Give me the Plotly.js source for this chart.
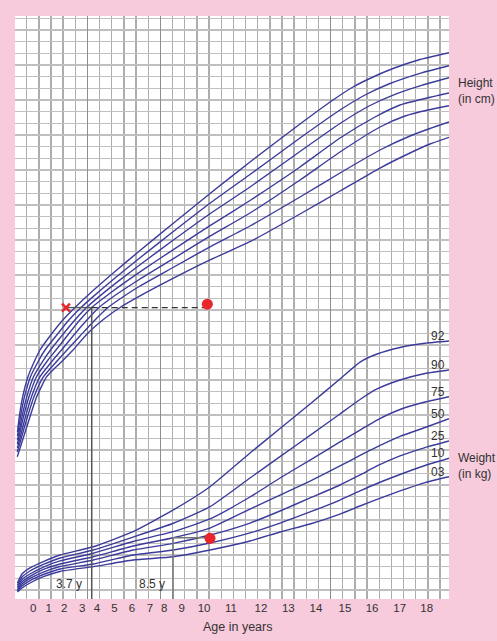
<!DOCTYPE html>
<html><head><meta charset="utf-8">
<script src="https://cdn.plot.ly/plotly-3.0.1.min.js"></script>
<style>html,body{margin:0;padding:0;background:#f7cadc;overflow:hidden}</style>
</head><body>
<div id="chart" style="width:497px;height:641px"></div>
<script>
// x axis unit = one column of the chart paper, y axis unit = one row of the chart paper
const ageTicks = [0,1,2,3,4,5,6,7,8,9,10,11,12,13,14,15,16,17,18];
const ageTickCol = [0.54,1.81,3.09,4.57,5.78,7.21,8.66,10.14,11.32,12.75,14.59,16.81,19.27,21.52,23.80,26.18,28.41,30.68,32.91];
const percentiles = ['92','90','75','50','25','10','03'];

// Height curves
const heightX_92 = [-0.757,-0.609,-0.329,0.107,0.683,1.094,1.917,2.904,3.973,5.372,7.264,9.321,12.035,15.079,18.370,22.483,25.197,26.843,28.488,30.134,32.354,34.740];
const heightY_92 = [13.543,14.854,16.569,18.283,19.714,20.571,21.771,23.057,24.214,25.586,27.300,29.099,31.413,33.985,36.685,39.943,42.000,43.114,43.971,44.700,45.471,46.054];
const heightX_90 = [-0.757,-0.510,-0.181,0.313,1.012,1.505,2.410,3.398,4.467,5.372,7.264,9.321,12.035,15.079,18.370,22.483,25.774,27.830,29.887,32.354,34.740];
const heightY_90 = [13.200,14.854,16.569,18.283,19.714,20.571,21.771,23.057,24.214,25.063,26.743,28.474,30.711,33.154,35.614,38.743,41.143,42.429,43.414,44.288,44.940];
const heightX_75 = [-0.757,-0.387,0.008,0.559,1.382,1.958,2.904,3.891,4.919,6.030,7.675,9.321,12.035,15.079,18.370,22.483,25.774,28.241,30.298,32.354,34.740];
const heightY_75 = [12.857,14.854,16.569,18.283,19.714,20.571,21.814,23.057,24.214,25.208,26.579,27.882,29.974,32.254,34.543,37.586,39.986,41.529,42.489,43.217,43.911];
const heightX_50 = [-0.765,-0.263,0.189,0.806,1.752,2.410,3.315,4.302,5.347,6.853,9.321,12.035,15.079,18.370,22.483,25.774,28.652,30.709,32.766,34.740];
const heightY_50 = [12.514,14.854,16.569,18.283,19.714,20.571,21.771,23.057,24.214,25.439,27.265,29.159,31.225,33.385,36.257,38.743,40.543,41.571,42.128,42.600];
const heightX_25 = [-0.765,-0.099,0.395,1.094,2.164,2.863,3.809,4.878,5.948,7.017,9.321,12.035,15.079,18.370,22.483,25.774,29.064,31.121,33.013,34.740];
const heightY_25 = [12.171,14.854,16.569,18.283,19.714,20.571,21.771,23.057,24.214,25.071,26.657,28.388,30.325,32.314,35.143,37.543,39.686,40.629,41.143,41.511];
const heightX_10 = [-0.773,0.066,0.600,1.382,2.575,3.315,4.385,5.536,6.688,8.087,9.321,12.035,15.079,18.370,22.483,25.774,29.064,31.532,33.177,34.740];
const heightY_10 = [11.829,14.854,16.569,18.283,19.714,20.571,21.771,23.057,24.214,25.243,26.057,27.643,29.417,31.200,33.686,35.743,37.714,38.914,39.557,40.114];
const heightX_03 = [-0.773,0.271,0.823,1.645,3.011,3.809,5.043,6.359,7.675,9.321,12.035,15.079,18.370,22.483,25.774,29.064,31.532,33.177,34.740];
const heightY_03 = [11.425,14.854,16.569,18.283,19.714,20.571,22.028,23.228,24.214,25.208,26.708,28.294,29.854,32.229,34.200,36.171,37.457,38.228,38.803];

// Weight curves
const weightX = [-0.76,-0.39,0.27,1.37,2.74,5.48,8.75,12.06,15.08,18.37,20.84,23.31,25.77,27.42,28.82,30.71,32.77,34.74];
const weightY_92 = [0.60,1.37,1.89,2.43,3.00,3.71,5.00,6.86,8.85,11.74,13.84,15.94,18.09,19.54,20.23,20.79,21.15,21.34];
const weightY_90 = [0.43,1.11,1.63,2.19,2.74,3.43,4.54,5.72,7.14,9.60,11.43,13.25,15.09,16.33,17.23,18.00,18.56,18.86];
const weightY_75 = [0.26,0.90,1.37,1.97,2.49,3.15,4.16,5.00,6.09,7.97,9.60,11.14,12.69,13.71,14.57,15.47,16.11,16.57];
const weightY_50 = [0.13,0.69,1.16,1.76,2.23,2.85,3.77,4.48,5.31,6.94,8.14,9.34,10.63,11.53,12.26,13.16,13.93,14.68];
const weightY_25 = [0.00,0.51,0.99,1.54,2.01,2.57,3.43,4.00,4.71,5.74,6.77,7.89,9.00,9.86,10.63,11.49,12.21,12.77];
const weightY_10 = [-0.09,0.34,0.81,1.33,1.80,2.23,3.00,3.43,4.03,4.89,5.74,6.69,7.71,8.49,9.13,9.90,10.67,11.29];
const weightY_03 = [-0.17,0.17,0.60,1.14,1.59,2.00,2.57,2.85,3.43,4.20,4.97,5.66,6.51,7.20,7.76,8.49,9.21,9.71];

// Child measurements and age readings
const heightAgeLabel = '3.7 y', heightAgeCol = 5.35;
const weightAgeLabel = '8.5 y', weightAgeCol = 12.04;
const heightCrossCol = 3.23, childHeightRow = 24.21;
const childHeightDot = [14.86, 24.50];
const childWeightDot = [15.08, 4.43], childWeightRow = 4.48;
const bottomRow = -0.77;

const blue = '#3b3b9c';
const heightX = [heightX_92,heightX_90,heightX_75,heightX_50,heightX_25,heightX_10,heightX_03];
const heightY = [heightY_92,heightY_90,heightY_75,heightY_50,heightY_25,heightY_10,heightY_03];
const weightY = [weightY_92,weightY_90,weightY_75,weightY_50,weightY_25,weightY_10,weightY_03];

const traces = [];
for (let i = 0; i < 7; i++) {
  traces.push({x: heightX[i], y: heightY[i], mode: 'lines', line: {color: blue, width: 1.4, shape: 'spline', smoothing: 0.5}, hoverinfo: 'skip'});
  traces.push({x: weightX, y: weightY[i], mode: 'lines', line: {color: blue, width: 1.4, shape: 'spline', smoothing: 0.5}, hoverinfo: 'skip'});
}
// height reading
traces.push({x: [heightCrossCol, heightAgeCol], y: [childHeightRow, childHeightRow], mode: 'lines', line: {color: '#555', width: 1.3}});
traces.push({x: [heightAgeCol, childHeightDot[0]], y: [childHeightRow, childHeightRow], mode: 'lines', line: {color: '#333', width: 1.3, dash: '6px,4px'}});
traces.push({x: [heightAgeCol, heightAgeCol], y: [childHeightRow, bottomRow], mode: 'lines', line: {color: '#555', width: 1.5}});
// weight reading
traces.push({x: [weightAgeCol, weightAgeCol, childWeightDot[0]], y: [bottomRow, childWeightRow, childWeightRow], mode: 'lines', line: {color: '#777', width: 1.5}});
// markers
traces.push({x: [heightCrossCol], y: [childHeightRow], mode: 'markers', marker: {symbol: 'x-thin', size: 8, color: '#e8262b', line: {width: 2.5, color: '#e8262b'}}});
traces.push({x: [childHeightDot[0], childWeightDot[0]], y: [childHeightDot[1], childWeightDot[1]], mode: 'markers', marker: {symbol: 'circle', size: 11, color: '#e8262b'}});
// helpers for overlay axes
traces.push({x: [null], y: [null], xaxis: 'x2', mode: 'markers', hoverinfo: 'skip'});
traces.push({x: [null], y: [null], xaxis: 'x3', mode: 'markers', hoverinfo: 'skip'});

const xr = [-0.9625, 34.74];
const font = 'Liberation Sans, Arial, sans-serif';
const annotations = [];
const weightEnds = weightY.map(a => a[a.length - 1]);
for (let i = 0; i < 7; i++) {
  annotations.push({x: weightX[weightX.length - 1], y: weightEnds[i], text: percentiles[i], showarrow: false,
    xanchor: 'right', yanchor: 'bottom', xshift: -2, yshift: -4, font: {size: 12, color: '#333', family: font}});
}
annotations.push({x: heightAgeCol, y: 0.51, text: heightAgeLabel, showarrow: false, xanchor: 'right', yanchor: 'middle', xshift: -8, font: {size: 12, color: '#333', family: font}});
annotations.push({x: weightAgeCol, y: 0.51, text: weightAgeLabel, showarrow: false, xanchor: 'right', yanchor: 'middle', xshift: -6, font: {size: 12, color: '#333', family: font}});
annotations.push({xref: 'paper', yref: 'paper', x: 0.5127, y: -0.048, text: 'Age in years', showarrow: false, xanchor: 'center', yanchor: 'middle', font: {size: 12.5, color: '#333', family: font}});
annotations.push({xref: 'paper', yref: 'paper', x: 1.0154, y: 0.8708, text: 'Height<br>(in cm)', align: 'left', showarrow: false, xanchor: 'left', yanchor: 'middle', font: {size: 12, color: '#333', family: font}});
annotations.push({xref: 'paper', yref: 'paper', x: 1.0161, y: 0.2276, text: 'Weight<br>(in kg)', align: 'left', showarrow: false, xanchor: 'left', yanchor: 'middle', font: {size: 12, color: '#333', family: font}});

const layout = {
  width: 497, height: 641,
  margin: {l: 15, r: 48, t: 16, b: 42},
  paper_bgcolor: '#f7cadc', plot_bgcolor: '#ffffff',
  showlegend: false,
  font: {family: font, color: '#333'},
  xaxis: {range: xr, tickmode: 'linear', tick0: 0, dtick: 1, showticklabels: false, ticks: '', showgrid: true,
    gridcolor: '#adadad', gridwidth: 1.4, zeroline: false, showline: false, fixedrange: true},
  xaxis2: {range: xr, overlaying: 'x', anchor: 'y', side: 'bottom', tickmode: 'array', tickvals: ageTickCol,
    ticktext: ageTicks.map(String), showgrid: false, zeroline: false, showline: false, ticks: '',
    tickfont: {size: 11.5, color: '#333', family: font}, fixedrange: true},
  xaxis3: {range: xr, overlaying: 'x', anchor: 'y', side: 'bottom', tickmode: 'array', tickvals: [5, 11, 25],
    showticklabels: false, showgrid: true, gridcolor: '#8e8e8e', gridwidth: 1.4, zeroline: false, showline: false, ticks: '', fixedrange: true},
  yaxis: {range: [-0.771, 49.2], tickmode: 'linear', tick0: 0, dtick: 1, showticklabels: false, ticks: '', showgrid: true,
    gridcolor: '#bfbfbf', gridwidth: 1.4, zeroline: false, showline: false, fixedrange: true},
  annotations: annotations
};
Plotly.newPlot('chart', traces, layout, {staticPlot: true, displayModeBar: false});
</script>
</body></html>
